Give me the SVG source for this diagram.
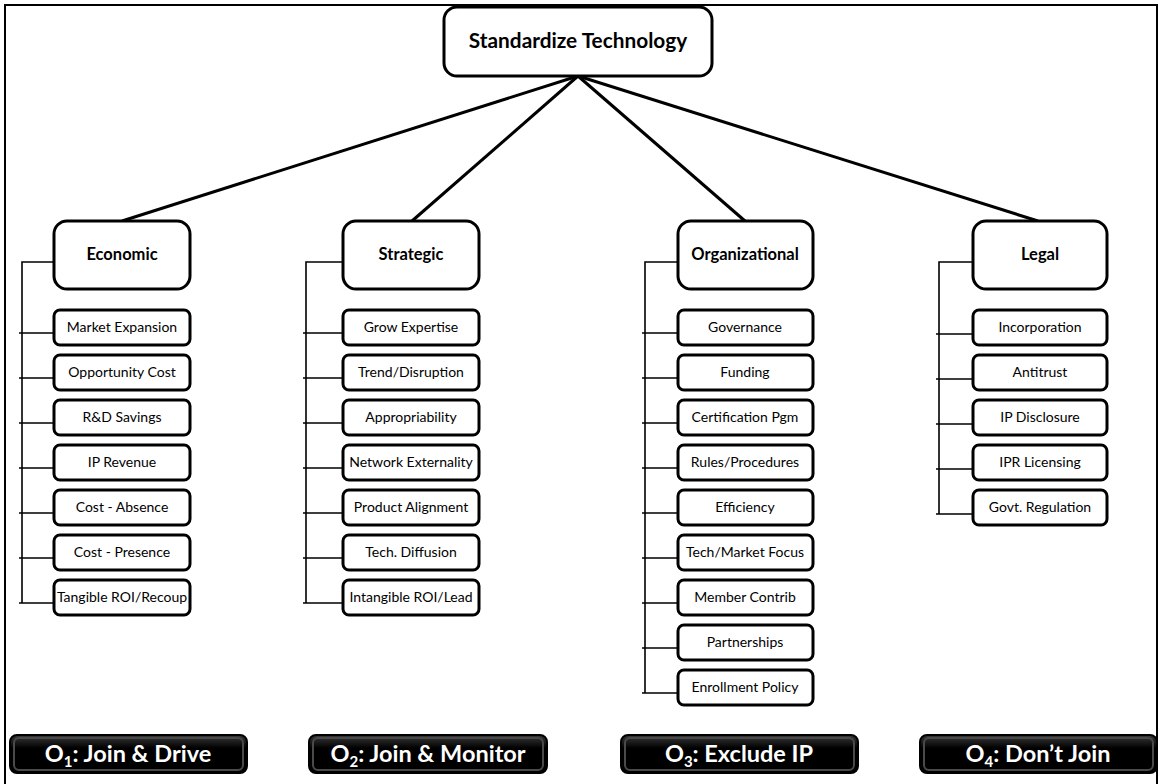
<svg xmlns="http://www.w3.org/2000/svg" width="1160" height="784" viewBox="0 0 1160 784">
<style>
.frame{fill:none;stroke:#000;stroke-width:2}
.top{fill:#fff;stroke:#000;stroke-width:3}
.cat{fill:#fff;stroke:#000;stroke-width:3}
.leaf{fill:#fff;stroke:#000;stroke-width:3}
.main{stroke:#000;stroke-width:3;fill:none}
.br{stroke:#000;stroke-width:1.6;fill:none}
.t{font-family:Lato,"Open Sans","Liberation Sans",sans-serif;fill:#000;text-anchor:middle}
.tt{font-size:20.8px;font-weight:bold}
.ct{font-size:16.5px;font-weight:bold}
.lt{font-size:14px}
.bt{font-family:Lato,"Open Sans","Liberation Sans",sans-serif;fill:#fff;text-anchor:middle;font-size:23.5px;font-weight:bold}
.btn{stroke:#000;stroke-width:2}
.bev{fill:none;stroke:#4a4a4a;stroke-width:2}
</style>
<defs>
<linearGradient id="g" x1="0" y1="0" x2="0" y2="1">
<stop offset="0" stop-color="#3a3a3a"/>
<stop offset="0.35" stop-color="#000"/>
<stop offset="1" stop-color="#000"/>
</linearGradient>
</defs>
<rect class="frame" x="5" y="5" width="1152" height="782"/>
<g id="connectors">
<line class="main" x1="578" y1="76" x2="122" y2="221"/>
<line class="main" x1="578" y1="76" x2="412" y2="221"/>
<line class="main" x1="578" y1="76" x2="745" y2="221"/>
<line class="main" x1="578" y1="76" x2="1038" y2="221"/>
<path class="br" d="M54 262H22V603 M19 333H54 M19 378H54 M19 423H54 M19 468H54 M19 513H54 M19 558H54 M19 603H54"/>
<path class="br" d="M343 262H306V603 M303 333H343 M303 378H343 M303 423H343 M303 468H343 M303 513H343 M303 558H343 M303 603H343"/>
<path class="br" d="M678 262H645V693 M642 333H678 M642 378H678 M642 423H678 M642 468H678 M642 513H678 M642 558H678 M642 603H678 M642 648H678 M642 693H678"/>
<path class="br" d="M973 262H939V514 M936 334H973 M936 379H973 M936 424H973 M936 469H973 M936 514H973"/>
</g>
<g id="n-root"><rect class="top" x="444" y="7" width="268" height="69" rx="13"/><text class="t tt" x="578" y="48">Standardize Technology</text></g>
<g id="n-economic"><rect class="cat" x="54" y="221" width="136" height="68" rx="13"/><text class="t ct" x="122" y="260">Economic</text></g>
<g id="n-strategic"><rect class="cat" x="343" y="221" width="136" height="68" rx="13"/><text class="t ct" x="411" y="260">Strategic</text></g>
<g id="n-organizational"><rect class="cat" x="678" y="221" width="135" height="68" rx="13"/><text class="t ct" x="745" y="260">Organizational</text></g>
<g id="n-legal"><rect class="cat" x="973" y="221" width="134" height="68" rx="13"/><text class="t ct" x="1040" y="260">Legal</text></g>

<g id="e1"><rect class="leaf" x="54" y="310" width="136" height="35" rx="6"/><text class="t lt" x="122" y="332">Market Expansion</text></g>
<g id="e2"><rect class="leaf" x="54" y="355" width="136" height="35" rx="6"/><text class="t lt" x="122" y="377">Opportunity Cost</text></g>
<g id="e3"><rect class="leaf" x="54" y="400" width="136" height="35" rx="6"/><text class="t lt" x="122" y="422">R&amp;D Savings</text></g>
<g id="e4"><rect class="leaf" x="54" y="445" width="136" height="35" rx="6"/><text class="t lt" x="122" y="467">IP Revenue</text></g>
<g id="e5"><rect class="leaf" x="54" y="490" width="136" height="35" rx="6"/><text class="t lt" x="122" y="512">Cost - Absence</text></g>
<g id="e6"><rect class="leaf" x="54" y="535" width="136" height="35" rx="6"/><text class="t lt" x="122" y="557">Cost - Presence</text></g>
<g id="e7"><rect class="leaf" x="54" y="580" width="136" height="35" rx="6"/><text class="t lt" x="122" y="602">Tangible ROI/Recoup</text></g>

<g id="s1"><rect class="leaf" x="343" y="310" width="136" height="35" rx="6"/><text class="t lt" x="411" y="332">Grow Expertise</text></g>
<g id="s2"><rect class="leaf" x="343" y="355" width="136" height="35" rx="6"/><text class="t lt" x="411" y="377">Trend/Disruption</text></g>
<g id="s3"><rect class="leaf" x="343" y="400" width="136" height="35" rx="6"/><text class="t lt" x="411" y="422">Appropriability</text></g>
<g id="s4"><rect class="leaf" x="343" y="445" width="136" height="35" rx="6"/><text class="t lt" x="411" y="467">Network Externality</text></g>
<g id="s5"><rect class="leaf" x="343" y="490" width="136" height="35" rx="6"/><text class="t lt" x="411" y="512">Product Alignment</text></g>
<g id="s6"><rect class="leaf" x="343" y="535" width="136" height="35" rx="6"/><text class="t lt" x="411" y="557">Tech. Diffusion</text></g>
<g id="s7"><rect class="leaf" x="343" y="580" width="136" height="35" rx="6"/><text class="t lt" x="411" y="602">Intangible ROI/Lead</text></g>

<g id="o1"><rect class="leaf" x="678" y="310" width="135" height="35" rx="6"/><text class="t lt" x="745" y="332">Governance</text></g>
<g id="o2"><rect class="leaf" x="678" y="355" width="135" height="35" rx="6"/><text class="t lt" x="745" y="377">Funding</text></g>
<g id="o3"><rect class="leaf" x="678" y="400" width="135" height="35" rx="6"/><text class="t lt" x="745" y="422">Certification Pgm</text></g>
<g id="o4"><rect class="leaf" x="678" y="445" width="135" height="35" rx="6"/><text class="t lt" x="745" y="467">Rules/Procedures</text></g>
<g id="o5"><rect class="leaf" x="678" y="490" width="135" height="35" rx="6"/><text class="t lt" x="745" y="512">Efficiency</text></g>
<g id="o6"><rect class="leaf" x="678" y="535" width="135" height="35" rx="6"/><text class="t lt" x="745" y="557">Tech/Market Focus</text></g>
<g id="o7"><rect class="leaf" x="678" y="580" width="135" height="35" rx="6"/><text class="t lt" x="745" y="602">Member Contrib</text></g>
<g id="o8"><rect class="leaf" x="678" y="625" width="135" height="35" rx="6"/><text class="t lt" x="745" y="647">Partnerships</text></g>
<g id="o9"><rect class="leaf" x="678" y="670" width="135" height="35" rx="6"/><text class="t lt" x="745" y="692">Enrollment Policy</text></g>

<g id="l1"><rect class="leaf" x="973" y="310" width="134" height="35" rx="6"/><text class="t lt" x="1040" y="332">Incorporation</text></g>
<g id="l2"><rect class="leaf" x="973" y="355" width="134" height="35" rx="6"/><text class="t lt" x="1040" y="377">Antitrust</text></g>
<g id="l3"><rect class="leaf" x="973" y="400" width="134" height="35" rx="6"/><text class="t lt" x="1040" y="422">IP Disclosure</text></g>
<g id="l4"><rect class="leaf" x="973" y="445" width="134" height="35" rx="6"/><text class="t lt" x="1040" y="467">IPR Licensing</text></g>
<g id="l5"><rect class="leaf" x="973" y="490" width="134" height="35" rx="6"/><text class="t lt" x="1040" y="512">Govt. Regulation</text></g>

<g id="b1"><rect class="btn" x="10" y="735" width="237" height="38" rx="7" fill="url(#g)"/><rect class="bev" x="14" y="738" width="229" height="32" rx="5"/><text class="bt" x="128" y="762">O<tspan font-size="15" dy="5">1</tspan><tspan dy="-5">: Join &amp; Drive</tspan></text></g>
<g id="b2"><rect class="btn" x="309" y="735" width="238" height="38" rx="7" fill="url(#g)"/><rect class="bev" x="313" y="738" width="230" height="32" rx="5"/><text class="bt" x="428" y="762">O<tspan font-size="15" dy="5">2</tspan><tspan dy="-5">: Join &amp; Monitor</tspan></text></g>
<g id="b3"><rect class="btn" x="621" y="735" width="237" height="38" rx="7" fill="url(#g)"/><rect class="bev" x="625" y="738" width="229" height="32" rx="5"/><text class="bt" x="739" y="762">O<tspan font-size="15" dy="5">3</tspan><tspan dy="-5">: Exclude IP</tspan></text></g>
<g id="b4"><rect class="btn" x="920" y="735" width="237" height="38" rx="7" fill="url(#g)"/><rect class="bev" x="924" y="738" width="229" height="32" rx="5"/><text class="bt" x="1038" y="762">O<tspan font-size="15" dy="5">4</tspan><tspan dy="-5">: Don’t Join</tspan></text></g>
</svg>
